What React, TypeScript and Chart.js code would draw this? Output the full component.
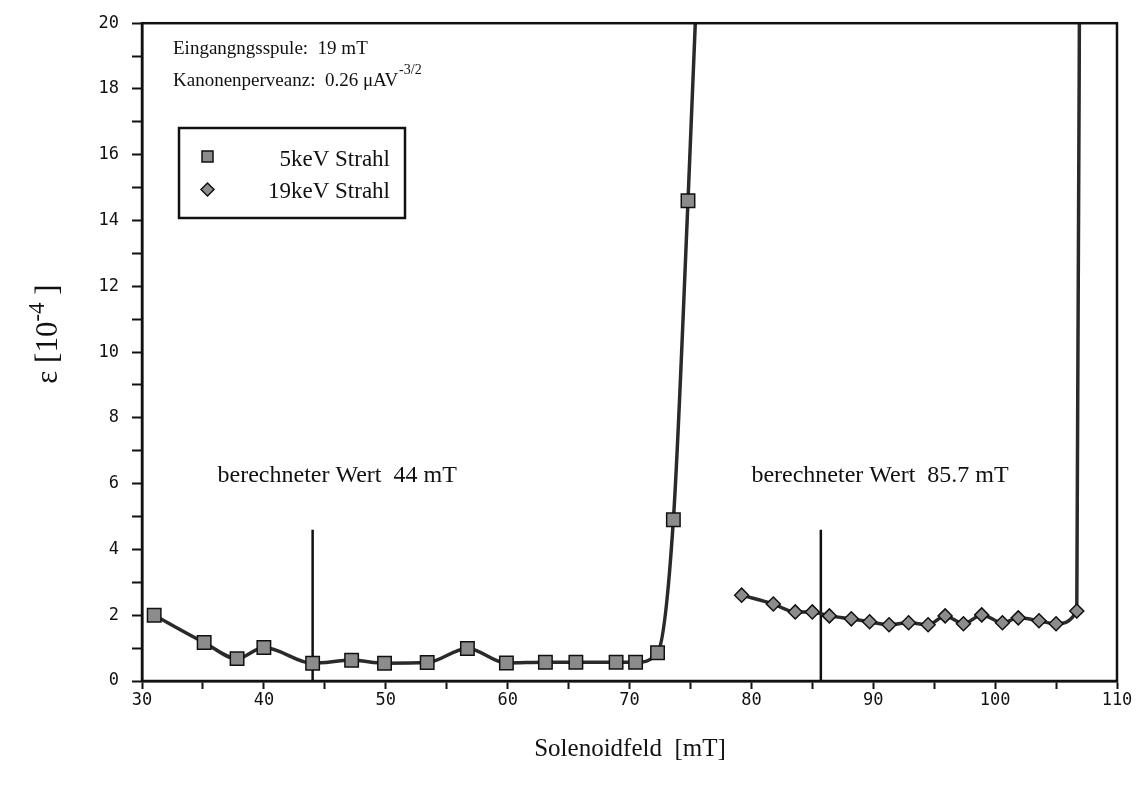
import React, { useEffect, useRef } from 'react';
import { Chart, registerables } from 'chart.js';

Chart.register(...registerables);

// Solenoid field [mT] and emittance [1e-4] for the 5 keV beam (last point lies above the axis range)
const field5keV = [31.0, 35.1, 37.8, 40.0, 44.0, 47.2, 49.9, 53.4, 56.7, 59.9, 63.1, 65.6, 68.9, 70.5, 72.3, 73.6, 74.8, 76.0];
const emit5keV = [2.0, 1.17, 0.68, 1.02, 0.54, 0.63, 0.54, 0.56, 0.99, 0.55, 0.57, 0.57, 0.57, 0.57, 0.86, 4.9, 14.6, 25.5];

// Solenoid field [mT] and emittance [1e-4] for the 19 keV beam
const field19keV = [79.2, 81.8, 83.6, 85.0, 86.4, 88.2, 89.7, 91.3, 92.9, 94.5, 95.9, 97.4, 98.9, 100.6, 101.9, 103.6, 105.0, 106.7, 107.0];
const emit19keV = [2.61, 2.34, 2.1, 2.1, 1.98, 1.89, 1.8, 1.71, 1.77, 1.71, 1.98, 1.74, 2.01, 1.77, 1.92, 1.83, 1.74, 2.13, 30];

// Calculated field values, marked by vertical lines
const calcFields = [44, 85.7];
const calcLineTop = 4.6;
const calcLabels = ['berechneter Wert  44 mT', 'berechneter Wert  85.7 mT'];
const calcLabelAnchors = [
  { x: 36.2, y: 6.05 },
  { x: 80.0, y: 6.05 },
];

const seriesNames = ['5keV Strahl', '19keV Strahl'];
const xTitle = 'Solenoidfeld  [mT]';
const infoLine1 = 'Eingangngsspule:  19 mT';
const infoLine2 = 'Kanonenperveanz:  0.26 \u03bcAV';
const infoLine2Sup = '-3/2';

const SERIF = '"Liberation Serif", "Times New Roman", serif';
const MONO = '"DejaVu Sans Mono", monospace';
const INK = '#111';
const MARK_FILL = '#8c8c8c';

const toPoints = (xs: number[], ys: number[]) => xs.map((x, i) => ({ x, y: ys[i] }));

const decorations = {
  id: 'decorations',
  afterDraw(chart: any) {
    const { ctx, chartArea } = chart;
    const xs = chart.scales.x;
    const ys = chart.scales.y;
    ctx.save();

    // frame around the plot area
    ctx.strokeStyle = INK;
    ctx.lineWidth = 2.5;
    ctx.strokeRect(chartArea.left, chartArea.top, chartArea.right - chartArea.left, chartArea.bottom - chartArea.top);

    ctx.fillStyle = INK;
    ctx.textBaseline = 'alphabetic';
    ctx.textAlign = 'left';

    // info lines
    ctx.font = `19px ${SERIF}`;
    ctx.fillText(infoLine1, 173, 54);
    ctx.fillText(infoLine2, 173, 86);
    const w2 = ctx.measureText(infoLine2).width;
    ctx.font = `14px ${SERIF}`;
    ctx.fillText(infoLine2Sup, 173 + w2 + 1, 74);

    // calculated value labels
    ctx.font = `24px ${SERIF}`;
    calcLabelAnchors.forEach((a, i) => {
      ctx.fillText(calcLabels[i], xs.getPixelForValue(a.x), ys.getPixelForValue(a.y));
    });

    // legend box
    const bx = 179, by = 128, bw = 226, bh = 90;
    ctx.lineWidth = 2.5;
    ctx.strokeRect(bx, by, bw, bh);
    ctx.font = `23px ${SERIF}`;
    ctx.textAlign = 'right';
    ctx.fillText(seriesNames[0], 390, 166);
    ctx.fillText(seriesNames[1], 390, 198);
    ctx.lineWidth = 1.5;
    ctx.fillStyle = MARK_FILL;
    ctx.strokeStyle = INK;
    ctx.beginPath();
    ctx.rect(202, 151, 11, 11);
    ctx.fill();
    ctx.stroke();
    ctx.beginPath();
    ctx.moveTo(207.5, 183);
    ctx.lineTo(214, 189.5);
    ctx.lineTo(207.5, 196);
    ctx.lineTo(201, 189.5);
    ctx.closePath();
    ctx.fill();
    ctx.stroke();

    // x axis title
    ctx.fillStyle = INK;
    ctx.textAlign = 'center';
    ctx.font = `25px ${SERIF}`;
    ctx.fillText(xTitle, 630, 756);

    // y axis title, rotated
    ctx.translate(57, 334);
    ctx.rotate(-Math.PI / 2);
    ctx.textAlign = 'left';
    const main = '\u03b5 [10';
    const sup = '-4';
    const tail = ' ]';
    ctx.font = `31px ${SERIF}`;
    const wMain = ctx.measureText(main).width;
    ctx.font = `23px ${SERIF}`;
    const wSup = ctx.measureText(sup).width;
    ctx.font = `31px ${SERIF}`;
    const wTail = ctx.measureText(tail).width;
    const total = wMain + wSup + wTail;
    let px = -total / 2;
    ctx.fillText(main, px, 0);
    px += wMain;
    ctx.font = `23px ${SERIF}`;
    ctx.fillText(sup, px, -13);
    px += wSup;
    ctx.font = `31px ${SERIF}`;
    ctx.fillText(tail, px, 0);

    ctx.restore();
  },
};

export default function App() {
  const canvasRef = useRef<HTMLCanvasElement | null>(null);

  useEffect(() => {
    const canvas = canvasRef.current;
    if (!canvas) return;

    const calcDatasets = calcFields.map((f) => ({
      type: 'line' as const,
      data: [
        { x: f, y: 0 },
        { x: f, y: calcLineTop },
      ],
      borderColor: INK,
      borderWidth: 2.5,
      pointRadius: 0,
      tension: 0,
    }));

    const chart = new Chart(canvas, {
      type: 'line',
      data: {
        datasets: [
          {
            label: seriesNames[0],
            data: toPoints(field5keV, emit5keV),
            borderColor: '#2a2a2a',
            borderWidth: 3.5,
            cubicInterpolationMode: 'monotone',
            pointStyle: 'rect',
            pointRadius: 9.5,
            pointBackgroundColor: MARK_FILL,
            pointBorderColor: INK,
            pointBorderWidth: 1.5,
          },
          {
            label: seriesNames[1],
            data: toPoints(field19keV, emit19keV),
            borderColor: '#2a2a2a',
            borderWidth: 3.5,
            cubicInterpolationMode: 'monotone',
            pointStyle: 'rectRot',
            pointRadius: 7,
            pointBackgroundColor: MARK_FILL,
            pointBorderColor: INK,
            pointBorderWidth: 1.5,
          },
          ...calcDatasets,
        ] as any,
      },
      options: {
        animation: false,
        responsive: false,
        maintainAspectRatio: false,
        layout: { padding: { top: 15, right: 28, left: 0, bottom: 0 } },
        plugins: {
          legend: { display: false },
          tooltip: { enabled: false },
        },
        scales: {
          x: {
            type: 'linear',
            min: 30,
            max: 110,
            afterFit: (s: any) => {
              s.height = 104;
            },
            ticks: {
              stepSize: 5,
              autoSkip: false,
              maxRotation: 0,
              padding: 1,
              color: INK,
              font: { family: MONO, size: 17 },
              callback: (v: any) => (Number(v) % 10 === 0 ? String(v) : ''),
            },
            grid: {
              drawOnChartArea: false,
              drawTicks: true,
              tickLength: 8,
              tickWidth: 2,
              tickColor: INK,
            },
            border: { display: true, color: INK, width: 2.5 },
          },
          y: {
            type: 'linear',
            min: 0,
            max: 20,
            afterFit: (s: any) => {
              s.width = 142;
            },
            ticks: {
              stepSize: 1,
              autoSkip: false,
              padding: 13,
              color: INK,
              font: { family: MONO, size: 17 },
              callback: (v: any) => (Number(v) % 2 === 0 ? String(v) : ''),
            },
            grid: {
              drawOnChartArea: false,
              drawTicks: true,
              tickLength: 10,
              tickWidth: 2,
              tickColor: INK,
            },
            border: { display: true, color: INK, width: 2.5 },
          },
        },
      } as any,
      plugins: [decorations],
    });

    return () => {
      chart.destroy();
    };
  }, []);

  return (
    <div style={{ position: 'absolute', left: 0, top: 0, width: 1145, height: 785, background: '#fff' }}>
      <canvas ref={canvasRef} width={1145} height={785} style={{ display: 'block' }} />
    </div>
  );
}
